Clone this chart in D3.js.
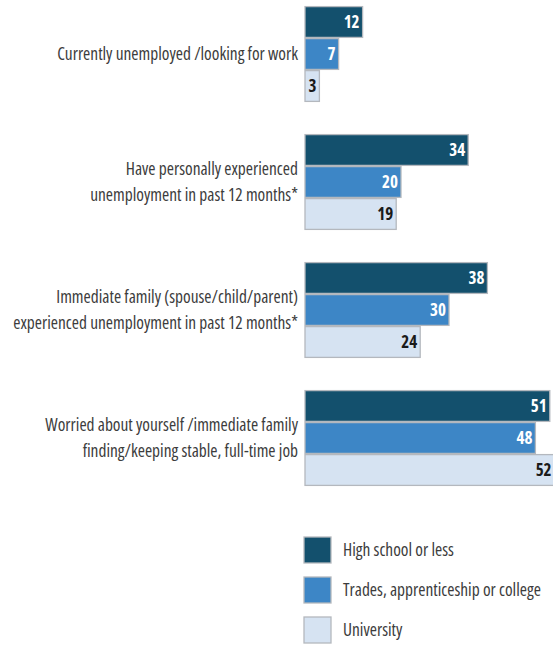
<!DOCTYPE html>
<html>
<head>
<meta charset="utf-8">
<script src="https://cdn.jsdelivr.net/npm/d3@7"></script>
<style>
  html, body { margin: 0; padding: 0; background: #fff; }
  svg { display: block; }
  .lbl { font-family: "Open Sans", sans-serif; font-stretch: condensed; fill: #3c3c3c; }
  .val { font-family: "Open Sans", sans-serif; font-stretch: condensed; font-weight: bold; }
</style>
</head>
<body>
<svg id="chart" width="553" height="645"></svg>
<script>
const categories = [
  ["Currently unemployed /looking for work"],
  ["Have personally experienced", "unemployment in past 12 months*"],
  ["Immediate family (spouse/child/parent)", "experienced unemployment in past 12 months*"],
  ["Worried about yourself /immediate family", "finding/keeping stable, full-time job"]
];
const seriesNames = ["High school or less", "Trades, apprenticeship or college", "University"];
const highSchool = [12, 34, 38, 51];
const trades = [7, 20, 30, 48];
const university = [3, 19, 24, 52];

const seriesValues = [highSchool, trades, university];
const colors = ["#13506d", "#3d86c6", "#d6e3f2"];
const textColors = ["#ffffff", "#ffffff", "#1a1a1a"];

const svg = d3.select("#chart");
const x0 = 305;
const x = d3.scaleLinear().domain([0, 100]).range([x0, x0 + 480]);
const catIdx = categories.map((d, i) => i);
const y = d3.scaleBand().domain(catIdx).range([6, 486]).paddingInner(0.25).paddingOuter(0);
const yInner = d3.scaleBand().domain(d3.range(seriesNames.length)).range([0, y.bandwidth()]);

const rows = [];
catIdx.forEach(c => seriesValues.forEach((vals, s) => rows.push({c, s, v: vals[c]})));

const g = svg.append("g");
g.selectAll("rect.bar").data(rows).enter().append("rect")
  .attr("class", "bar")
  .attr("x", x(0))
  .attr("y", d => y(d.c) + yInner(d.s) + 0.6)
  .attr("width", d => x(d.v) - x(0))
  .attr("height", yInner.bandwidth() - 1.2)
  .attr("fill", d => colors[d.s])
  .attr("stroke", "#b4b8be")
  .attr("stroke-width", 1.3);

g.selectAll("text.val").data(rows).enter().append("text")
  .attr("class", "val")
  .attr("x", d => x(d.v) - 3)
  .attr("y", d => y(d.c) + yInner(d.s) + yInner.bandwidth() / 2)
  .attr("dy", "0.36em")
  .attr("text-anchor", "end")
  .attr("font-size", 17)
  .attr("fill", d => textColors[d.s])
  .text(d => d.v);

// category labels
const lineH = 26;
catIdx.forEach(c => {
  const lines = categories[c];
  const cy = y(c) + y.bandwidth() / 2;
  const t = svg.append("text").attr("class", "lbl")
    .attr("text-anchor", "end")
    .attr("font-size", 17.4);
  lines.forEach((ln, k) => {
    t.append("tspan")
      .attr("x", 298)
      .attr("y", cy + (k - (lines.length - 1) / 2) * lineH)
      .attr("dy", "0.35em")
      .text(ln);
  });
});

// legend
const legY = d3.scaleBand().domain(d3.range(seriesNames.length)).range([537, 657]);
const leg = svg.append("g");
seriesNames.forEach((name, i) => {
  leg.append("rect")
    .attr("x", 304).attr("y", legY(i))
    .attr("width", 27).attr("height", 26)
    .attr("fill", colors[i])
    .attr("stroke", "#b4b8be").attr("stroke-width", 1.3);
  leg.append("text").attr("class", "lbl")
    .attr("x", 343).attr("y", legY(i) + 13)
    .attr("dy", "0.35em")
    .attr("font-size", 17.4)
    .text(name);
});
</script>
</body>
</html>
